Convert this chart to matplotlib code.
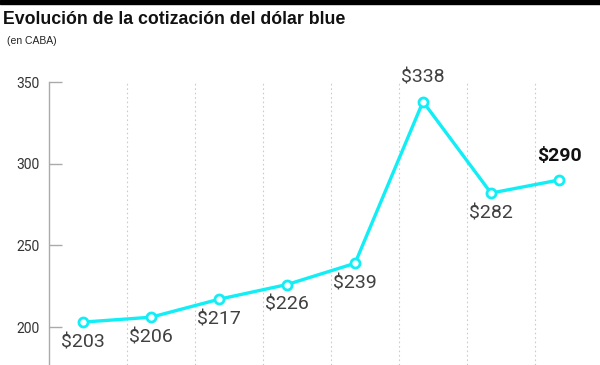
import matplotlib
matplotlib.use("Agg")
import matplotlib.pyplot as plt

values = [203, 206, 217, 226, 239, 338, 282, 290]
labels = ["$203", "$206", "$217", "$226", "$239", "$338", "$282", "$290"]
label_pos = ["below", "below", "below", "below", "below", "above", "below", "above"]
yticks = [200, 250, 300, 350]

plt.rcParams['font.family'] = ['Roboto', 'DejaVu Sans']

fig = plt.figure(figsize=(6, 3.65), dpi=100)
fig.patches.append(plt.Rectangle((0, 1 - 4/365), 1, 4/365, transform=fig.transFigure,
                                 color='black', zorder=10))
fig.text(3/600, 1 - 19/365, "Evolución de la cotización del dólar blue",
         fontsize=12.8, fontweight='bold', family=['Liberation Sans', 'DejaVu Sans'],
         va='center', ha='left', color='#111111')
fig.text(7/600, 1 - 41/365, "(en CABA)", fontsize=7.5, va='center', ha='left',
         family=['Liberation Sans', 'DejaVu Sans'], color='#222222')

ax = fig.add_axes([49/600, 0, 551/600, (365 - 82)/365])
x = list(range(len(values)))
ax.set_xlim(-0.5, (600 - 83) / 68)
ax.set_ylim(200 - 38 / 81.7 * 50, 350)

for i in range(1, len(values)):
    ax.axvline(i - 0.35, color='#cccccc', lw=0.8, ls=(0, (1.5, 2.5)), zorder=1)

ax.plot(x, values, color='#12eef6', lw=2.4, marker='o', markersize=6.5,
        markerfacecolor='white', markeredgecolor='#12eef6', markeredgewidth=2, zorder=3)

for xi, v, lab, pos in zip(x, values, labels, label_pos):
    dy = -14.5 if pos == 'below' else 17
    bold = (xi == len(values) - 1)
    ax.annotate(lab, (xi, v), xytext=(0, dy), textcoords='offset points',
                ha='center', va='center', fontsize=14,
                fontweight='bold' if bold else 'normal',
                color='#111111' if bold else '#404040')

ax.set_yticks(yticks)
ax.set_xticks([])
for s in ['top', 'right', 'bottom']:
    ax.spines[s].set_visible(False)
ax.spines['left'].set_color('#aaaaaa')
ax.spines['left'].set_linewidth(1)
ax.spines['left'].set_bounds(ax.get_ylim()[0], 350)
ax.tick_params(axis='y', direction='in', length=9.5, width=1, color='#aaaaaa',
               labelsize=10, labelcolor='#333333', pad=7)
ax.patch.set_alpha(0)

fig.savefig("out.png", dpi=100)
